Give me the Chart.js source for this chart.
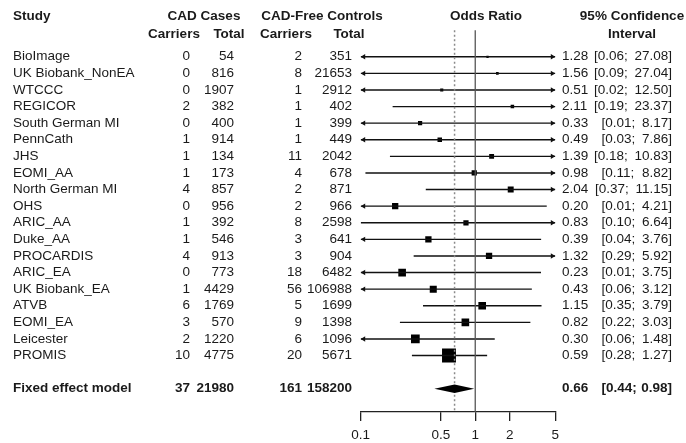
<!DOCTYPE html>
<html>
<head>
<meta charset="utf-8">
<script src="https://cdn.jsdelivr.net/npm/chart.js@4.4.1/dist/chart.umd.min.js"></script>
<style>
  html, body { margin: 0; padding: 0; background: #fff; }
</style>
</head>
<body>
<canvas id="forest" width="686" height="443"></canvas>
<script>
const studies = ['BioImage', 'UK Biobank_NonEA', 'WTCCC', 'REGICOR', 'South German MI', 'PennCath', 'JHS',
	'EOMI_AA', 'North German MI', 'OHS', 'ARIC_AA', 'Duke_AA', 'PROCARDIS', 'ARIC_EA', 'UK Biobank_EA',
	'ATVB', 'EOMI_EA', 'Leicester', 'PROMIS'];
const caseCarriers = [0, 0, 0, 2, 0, 1, 1, 1, 4, 0, 1, 1, 4, 0, 1, 6, 3, 2, 10];
const caseTotals = [54, 816, 1907, 382, 400, 914, 134, 173, 857, 956, 392, 546, 913, 773, 4429, 1769, 570, 1220, 4775];
const ctrlCarriers = [2, 8, 1, 1, 1, 1, 11, 4, 2, 2, 8, 3, 3, 18, 56, 5, 9, 6, 20];
const ctrlTotals = [351, 21653, 2912, 402, 399, 449, 2042, 678, 871, 966, 2598, 641, 904, 6482, 106988, 1699, 1398, 1096, 5671];
const oddsRatio = [1.28, 1.56, 0.51, 2.11, 0.33, 0.49, 1.39, 0.98, 2.04, 0.20, 0.83, 0.39, 1.32, 0.23, 0.43, 1.15, 0.82, 0.30, 0.59];
const ciLower = [0.06, 0.09, 0.02, 0.19, 0.01, 0.03, 0.18, 0.11, 0.37, 0.01, 0.10, 0.04, 0.29, 0.01, 0.06, 0.35, 0.22, 0.06, 0.28];
const ciUpper = [27.08, 27.04, 12.50, 23.37, 8.17, 7.86, 10.83, 8.82, 11.15, 4.21, 6.64, 3.76, 5.92, 3.75, 3.12, 3.79, 3.03, 1.48, 1.27];
// study weights (%)
const weights = [0.6, 0.8, 1.1, 1.4, 2.0, 2.3, 2.7, 3.1, 4.0, 4.5, 3.1, 4.5, 4.5, 6.6, 5.6, 6.6, 6.6, 8.6, 22];

const pooledLabel = 'Fixed effect model';
const pooledCounts = [37, 21980, 161, 158200];
const pooledOR = [0.66, 0.44, 0.98];

const xTicks = [0.1, 0.5, 1, 2, 5];

const X_MIN = 0.1, X_MAX = 5;
const FIXED_ROW = studies.length + 1;
const FONT = '"Liberation Sans", Arial, Helvetica, sans-serif';
const FSIZE = 13.5;
const TEXT = '#1a1a1a';
const clampX = v => Math.min(X_MAX, Math.max(X_MIN, v));

const datasets = [];
// line of no effect and pooled estimate
datasets.push({
	data: [{ x: 1, y: -1.6 }, { x: 1, y: 21.4 }],
	showLine: true, borderColor: '#555', borderWidth: 1.3, pointRadius: 0
});
datasets.push({
	data: [{ x: pooledOR[0], y: -1.6 }, { x: pooledOR[0], y: 21.4 }],
	showLine: true, borderColor: '#8a8a8a', borderWidth: 1.5, borderDash: [2, 2.5], pointRadius: 0
});
// confidence intervals, one short line per study
studies.forEach((s, i) => {
	datasets.push({
		data: [{ x: clampX(ciLower[i]), y: i }, { x: clampX(ciUpper[i]), y: i }],
		showLine: true, borderColor: '#111', borderWidth: 1.4, pointRadius: 0
	});
});
// point estimates
datasets.push({
	data: studies.map((s, i) => ({ x: oddsRatio[i], y: i })),
	showLine: false,
	pointStyle: 'rect',
	pointRadius: weights.map(w => 2.1 * Math.sqrt(w)),
	pointBackgroundColor: '#000',
	pointBorderWidth: 0
});

const forestExtras = {
	id: 'forestExtras',
	afterDatasetsDraw(chart) {
		const { ctx, scales: { x, y } } = chart;
		ctx.save();
		ctx.fillStyle = '#111';
		// arrows where the interval runs past the axis
		studies.forEach((s, i) => {
			const py = y.getPixelForValue(i);
			if (ciLower[i] < X_MIN) {
				const px = x.getPixelForValue(X_MIN);
				ctx.beginPath();
				ctx.moveTo(px, py);
				ctx.lineTo(px + 4.5, py - 2.7);
				ctx.lineTo(px + 4.5, py + 2.7);
				ctx.closePath();
				ctx.fill();
			}
			if (ciUpper[i] > X_MAX) {
				const px = x.getPixelForValue(X_MAX);
				ctx.beginPath();
				ctx.moveTo(px, py);
				ctx.lineTo(px - 4.5, py - 2.7);
				ctx.lineTo(px - 4.5, py + 2.7);
				ctx.closePath();
				ctx.fill();
			}
		});
		// pooled diamond
		const dy = y.getPixelForValue(FIXED_ROW);
		ctx.fillStyle = '#000';
		ctx.beginPath();
		ctx.moveTo(x.getPixelForValue(pooledOR[1]), dy);
		ctx.lineTo(x.getPixelForValue(pooledOR[0]), dy - 4.3);
		ctx.lineTo(x.getPixelForValue(pooledOR[2]), dy);
		ctx.lineTo(x.getPixelForValue(pooledOR[0]), dy + 4.3);
		ctx.closePath();
		ctx.fill();
		ctx.restore();
	},
	afterDraw(chart) {
		const { ctx, scales: { y } } = chart;
		ctx.save();
		ctx.fillStyle = TEXT;
		ctx.textBaseline = 'middle';
		const put = (t, px, py, align) => { ctx.textAlign = align; ctx.fillText(t, px, py); };

		// headers
		ctx.font = 'bold ' + FSIZE + 'px ' + FONT;
		const h1 = y.getPixelForValue(-2.42), h2 = y.getPixelForValue(-1.37);
		put('Study', 13, h1, 'left');
		put('CAD Cases', 204, h1, 'center');
		put('CAD-Free Controls', 322, h1, 'center');
		put('Odds Ratio', 486, h1, 'center');
		put('95% Confidence', 632, h1, 'center');
		put('Carriers', 174, h2, 'center');
		put('Total', 229, h2, 'center');
		put('Carriers', 286, h2, 'center');
		put('Total', 349, h2, 'center');
		put('Interval', 632, h2, 'center');

		const ciText = (or, lo, hi, py) => {
			const shift = ctx.measureText('27.08').width - ctx.measureText(hi.toFixed(2)).width;
			put(or.toFixed(2), 562, py, 'left');
			put('[' + lo.toFixed(2) + ';', 594 + shift, py, 'left');
			put(hi.toFixed(2) + ']', 672, py, 'right');
		};

		ctx.font = FSIZE + 'px ' + FONT;
		studies.forEach((s, i) => {
			const py = y.getPixelForValue(i);
			put(s, 13, py, 'left');
			put(String(caseCarriers[i]), 190, py, 'right');
			put(String(caseTotals[i]), 234, py, 'right');
			put(String(ctrlCarriers[i]), 302, py, 'right');
			put(String(ctrlTotals[i]), 352, py, 'right');
			ciText(oddsRatio[i], ciLower[i], ciUpper[i], py);
		});

		ctx.font = 'bold ' + FSIZE + 'px ' + FONT;
		const py = y.getPixelForValue(FIXED_ROW);
		put(pooledLabel, 13, py, 'left');
		put(String(pooledCounts[0]), 190, py, 'right');
		put(String(pooledCounts[1]), 234, py, 'right');
		put(String(pooledCounts[2]), 302, py, 'right');
		put(String(pooledCounts[3]), 352, py, 'right');
		ciText(pooledOR[0], pooledOR[1], pooledOR[2], py);
		ctx.restore();
	}
};

new Chart(document.getElementById('forest'), {
	type: 'scatter',
	data: { datasets: datasets },
	options: {
		responsive: false,
		animation: false,
		events: [],
		layout: { padding: { left: 360.7, right: 130.7, top: 10.3, bottom: 0 } },
		plugins: {
			legend: { display: false },
			tooltip: { enabled: false }
		},
		scales: {
			x: {
				type: 'logarithmic',
				min: X_MIN,
				max: X_MAX,
				afterBuildTicks: sc => { sc.ticks = xTicks.map(v => ({ value: v })); },
				afterFit: sc => { sc.height = 31; },
				ticks: {
					callback: v => String(v),
					color: TEXT,
					font: { size: FSIZE, family: FONT },
					padding: 6,
					maxRotation: 0,
					autoSkip: false
				},
				grid: { drawOnChartArea: false, drawTicks: true, tickLength: 9, color: '#222', lineWidth: 1.3 },
				border: { display: true, color: '#222', width: 1.3 }
			},
			y: {
				type: 'linear',
				min: -2.8,
				max: 21.4,
				reverse: true,
				display: false
			}
		}
	},
	plugins: [forestExtras]
});
</script>
</body>
</html>
